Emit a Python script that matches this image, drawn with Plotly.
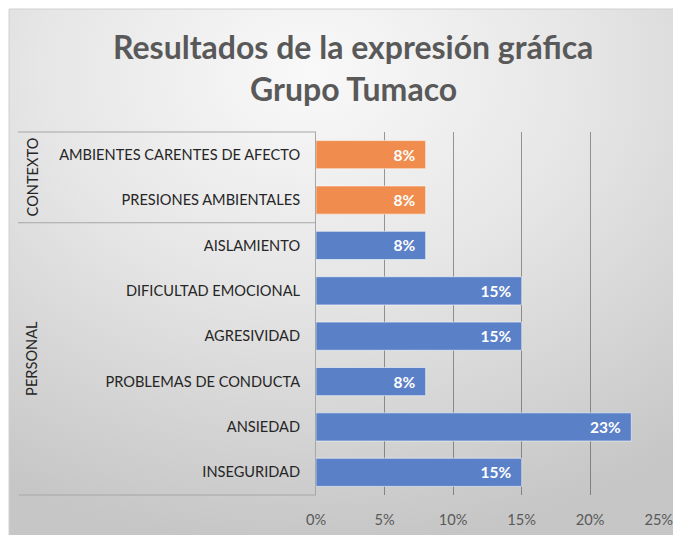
import plotly.graph_objects as go

categories = ["AMBIENTES CARENTES DE AFECTO", "PRESIONES AMBIENTALES", "AISLAMIENTO",
              "DIFICULTAD EMOCIONAL", "AGRESIVIDAD", "PROBLEMAS DE CONDUCTA",
              "ANSIEDAD", "INSEGURIDAD"]
groups = ["CONTEXTO", "CONTEXTO", "PERSONAL", "PERSONAL", "PERSONAL", "PERSONAL",
          "PERSONAL", "PERSONAL"]
values = [0.08, 0.08, 0.08, 0.15, 0.15, 0.08, 0.23, 0.15]
x_ticks = [0, 0.05, 0.10, 0.15, 0.20, 0.25]
group_names = ["CONTEXTO", "PERSONAL"]
group_colors = {"CONTEXTO": "#EF8C4E", "PERSONAL": "#5A80C8"}
title_lines = ["Resultados de la expresión gráfica", "Grupo Tumaco"]

OFF = 8  # page body margin
W, H = 681 - OFF, 535 - OFF
L, R, T, B = 316 - OFF, 659 - OFF, 132 - OFF, 495 - OFF
pw, ph = R - L, B - T

def px(xp):  # reference page x -> paper
    return (xp - OFF - L) / pw

def py(yp):  # reference page y -> paper
    return (B - (yp - OFF)) / ph

FONT = "Lato, Calibri, Carlito, sans-serif"

fig = go.Figure(go.Bar(
    y=categories, x=values, orientation="h",
    marker=dict(color=[group_colors[g] for g in groups],
                line=dict(color="rgba(255,255,255,0.55)", width=1)),
    text=[f"{v:.0%}\u00a0\u00a0" for v in values], textposition="inside",
    insidetextanchor="end",
    textfont=dict(color="white", size=15.5, family=FONT, weight="bold"),
    width=0.62, cliponaxis=False,
))

svg = ("data:image/svg+xml;utf8,"
       "<svg xmlns='http://www.w3.org/2000/svg' width='673' height='527' preserveAspectRatio='none'>"
       "<defs><radialGradient id='g' cx='45%' cy='12%' r='90%'>"
       "<stop offset='0' stop-color='%23f9f9f9'/><stop offset='0.45' stop-color='%23e6e6e6'/>"
       "<stop offset='1' stop-color='%23c6c6c6'/></radialGradient></defs>"
       "<rect width='673' height='527' fill='url(%23g)'/></svg>")

fig.add_layout_image(dict(source=svg, xref="paper", yref="paper",
                          x=px(9), y=py(9), sizex=(W + OFF - 9) / pw, sizey=(H + OFF - 9) / ph,
                          xanchor="left", yanchor="top", sizing="stretch", layer="below"))

line_col = "#a6a6a6"
shapes = [
    dict(type="rect", xref="paper", yref="paper", x0=px(9), x1=px(W + OFF + 2),
         y0=py(H + OFF + 2), y1=py(9),
         line=dict(color="#d0d0d0", width=1), fillcolor="rgba(0,0,0,0)", layer="below"),
    dict(type="line", xref="paper", yref="paper", x0=px(18), x1=0, y0=1, y1=1,
         line=dict(color=line_col, width=1)),
    dict(type="line", xref="paper", yref="paper", x0=px(18), x1=0, y0=0.75, y1=0.75,
         line=dict(color=line_col, width=1)),
    dict(type="line", xref="paper", yref="paper", x0=px(19), x1=0, y0=0, y1=0,
         line=dict(color=line_col, width=1)),
]

annotations = [
    dict(text=group_names[0], xref="paper", yref="paper", x=px(32), y=0.875, textangle=-90,
         xanchor="center", yanchor="middle",
         showarrow=False, font=dict(size=14.6, color="#262626", family=FONT)),
    dict(text=group_names[1], xref="paper", yref="paper", x=px(32), y=0.375, textangle=-90,
         xanchor="center", yanchor="middle",
         showarrow=False, font=dict(size=14.6, color="#262626", family=FONT)),
    dict(text=title_lines[0], xref="paper", yref="paper", x=px(353), y=py(47),
         xanchor="center", yanchor="middle",
         showarrow=False, font=dict(size=32, color="#595959", family=FONT, weight="bold")),
    dict(text=title_lines[1], xref="paper", yref="paper", x=px(353), y=py(88),
         xanchor="center", yanchor="middle",
         showarrow=False, font=dict(size=32, color="#595959", family=FONT, weight="bold")),
]

fig.update_layout(
    width=W, height=H, autosize=False,
    margin=dict(l=L, r=W - R, t=T, b=H - B, pad=0, autoexpand=False),
    paper_bgcolor="white", plot_bgcolor="rgba(0,0,0,0)",
    showlegend=False, bargap=0.38,
    shapes=shapes, annotations=annotations,
    xaxis=dict(range=[0, 0.2502], tickvals=x_ticks, tickformat=".0%", automargin=False,
               showgrid=True, gridcolor="rgba(60,60,60,0.5)", gridwidth=1,
               zeroline=False, showline=False,
               ticks="outside", ticklen=11, tickcolor="rgba(0,0,0,0)",
               tickfont=dict(size=14.6, color="#595959", family=FONT), fixedrange=True),
    yaxis=dict(autorange="reversed", showgrid=False, zeroline=False, automargin=False,
               showline=True, linecolor=line_col, linewidth=1,
               ticks="outside", ticklen=12, tickcolor="rgba(0,0,0,0)",
               tickfont=dict(size=14.6, color="#262626", family=FONT), fixedrange=True),
)

fig.write_html("out.html")
